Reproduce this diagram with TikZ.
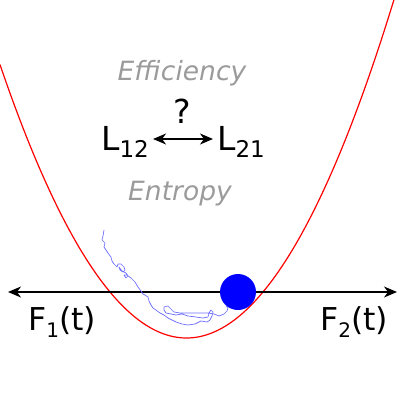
\documentclass[tikz,border=0pt]{standalone}
\usepackage{fontspec}
\setmainfont{DejaVu Sans}
\usetikzlibrary{arrows.meta}
\definecolor{txtgray}{RGB}{155,155,155}
\definecolor{walkblue}{RGB}{110,110,255}
\newcommand{\subs}[2]{\raisebox{-7pt}{\fontsize{#1}{#1}\selectfont #2}}
\tikzset{
  bigtext/.style={inner sep=0pt, font=\fontsize{33}{33}\selectfont},
  ftext/.style={inner sep=0pt, font=\fontsize{31.5}{31.5}\selectfont},
  graytext/.style={inner sep=0pt, text=txtgray, font=\fontsize{26.5}{26.5}\selectfont\itshape},
  arr/.style={line width=1.2pt, {Stealth[length=13pt,width=11pt,inset=4pt]}-{Stealth[length=13pt,width=11pt,inset=4pt]}},
}
\begin{document}
\begin{tikzpicture}[x=1pt,y=-1pt]
\useasboundingbox (0,0) rectangle (400,400);
\begin{scope}
\clip (0,0) rectangle (400,400);
\draw[red, line width=1.2pt] plot[domain=0:394.5, samples=120] (\x, {338-((\x-186.5)/11.28)^2});
\end{scope}
\coordinate (hl) at (8,292);
\coordinate (hr) at (397,292);
\draw[arr] (hl) -- (hr);
\draw[walkblue, line width=0.7pt, line join=round] plot coordinates {
(104,230) (103,236) (102,240) (105,243) (104,247) (106,250) (108,253) (111,257) (112,261) (114,264) (117,267) (118,264) (121,264) (124,267) (125,270) (123,272) (120,270) (119,267) (122,271) (126,273) (128,276) (126,278) (124,275) (127,275) (131,278) (135,282) (138,287) (141,291) (143,294) (145,295) (148,297) (149,301) (151,305) (153,308) (156,310) (160,313) (164,315) (168,318) (172,320) (176,322) (182,324) (188,325) (195,324) (201,321) (207,322) (210,320) (212,316) (213,312) (211,310) (209,313) (208,317) (203,318) (196,317) (188,316) (182,314) (176,315) (171,314) (166,313) (164,310) (164,307) (168,306) (171,309) (174,312) (180,313) (190,313) (200,313) (208,313) (214,314) (219,316) (224,314) (227,311) (228,308) (226,306)};
\node[circle, fill=blue, minimum size=36pt, inner sep=0pt] (ball) at (238,292) {};
\node[graytext, anchor=base] (eff) at (182,80) {Efficiency};
\node[bigtext, anchor=base] (q) at (182,123) {?};
\node[bigtext, anchor=base west] (l12) at (101,150) {L\subs{23}{12}};
\node[bigtext, anchor=base west] (l21) at (217,150) {L\subs{23}{21}};
\draw[arr] ([shift={(4,-11)}]l12.base east) -- ([shift={(-4,-11)}]l21.base west);
\node[graytext, anchor=base] (ent) at (180,200) {Entropy};
\node[ftext, anchor=base west] (f1) at (28,330) {F\subs{20}{1}(t)};
\node[ftext, anchor=base west] (f2) at (320,330) {F\subs{20}{2}(t)};
\end{tikzpicture}
\end{document}
